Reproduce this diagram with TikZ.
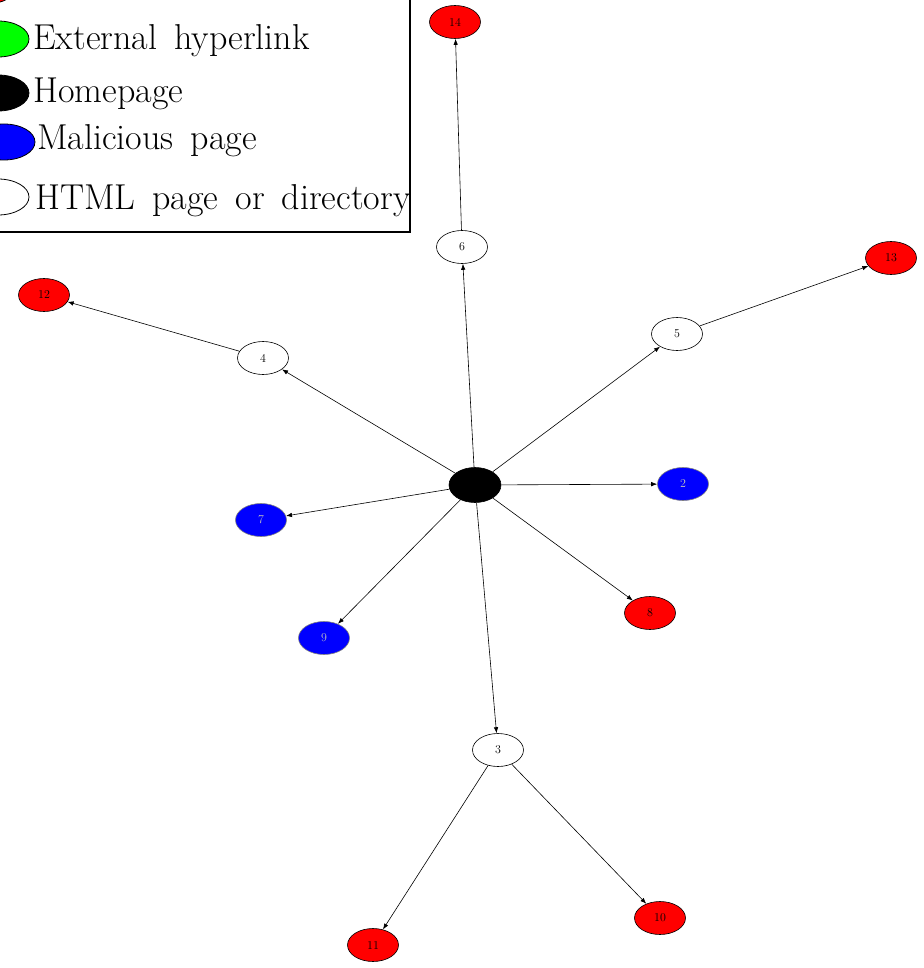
\documentclass[tikz,border=0pt]{standalone}
\usetikzlibrary{shapes.geometric,arrows.meta}
\newcommand{\legfnt}{\fontsize{36}{42}\selectfont\spaceskip=17pt plus 0pt minus 0pt\relax}
\begin{document}
\begin{tikzpicture}[x=1pt,y=-1pt,
  pg/.style={ellipse,draw=black,line width=0.6pt,minimum width=51pt,minimum height=33pt,inner sep=0pt,font=\fontsize{12}{14}\selectfont},
  wpage/.style={pg,fill=white},
  rpage/.style={pg,fill=red},
  bpage/.style={pg,fill=blue,draw=gray,text=lightgray},
  hpage/.style={pg,fill=black,minimum width=52pt,minimum height=35pt},
  edge/.style={line width=0.6pt,-{Latex[length=6pt,width=4.5pt]}},
  leg/.style={ellipse,draw=black,line width=0.8pt,minimum width=62pt,minimum height=36pt,inner sep=0pt},
  legtext/.style={anchor=base west,inner sep=0pt}
]
\useasboundingbox (0,0) rectangle (923,968);
% legend
\draw[line width=1.6pt,fill=white] (-10,-10) rectangle (410,232);
\node[leg,fill=red] (lr) at (-14,-14) {};
\node[leg,fill=green] (lg) at (-2,39) {};
\node[leg,fill=black] (lb) at (-2,93) {};
\node[leg,fill=blue] (lbl) at (4,142) {};
\node[leg,fill=white] (lw) at (-2,197) {};
\node[legtext] (t1) at (33,50) {\legfnt External hyperlink};
\node[legtext] (t2) at (33,103) {\legfnt Homepage};
\node[legtext] (t3) at (37,150) {\legfnt Malicious page};
\node[legtext] (t4) at (35,210) {\legfnt HTML page or directory};
% graph nodes
\node[hpage] (h) at (475,485) {};
\node[rpage] (n14) at (455,22) {14};
\node[wpage] (n6) at (462,247) {6};
\node[rpage] (n13) at (891,258) {13};
\node[rpage] (n12) at (44,295) {12};
\node[wpage] (n5) at (677,334) {5};
\node[wpage] (n4) at (263,358) {4};
\node[bpage] (n2) at (683,484) {2};
\node[bpage] (n7) at (261,520) {7};
\node[rpage] (n8) at (650,613) {8};
\node[bpage] (n9) at (324,638) {9};
\node[wpage] (n3) at (498,750) {3};
\node[rpage] (n10) at (660,918) {10};
\node[rpage] (n11) at (373,945) {11};
% edges
\foreach \t in {n6,n5,n4,n7,n2,n8,n9,n3} \draw[edge] (h) -- (\t);
\draw[edge] (n6) -- (n14);
\draw[edge] (n5) -- (n13);
\draw[edge] (n4) -- (n12);
\draw[edge] (n3) -- (n11);
\draw[edge] (n3) -- (n10);
\end{tikzpicture}
\end{document}
